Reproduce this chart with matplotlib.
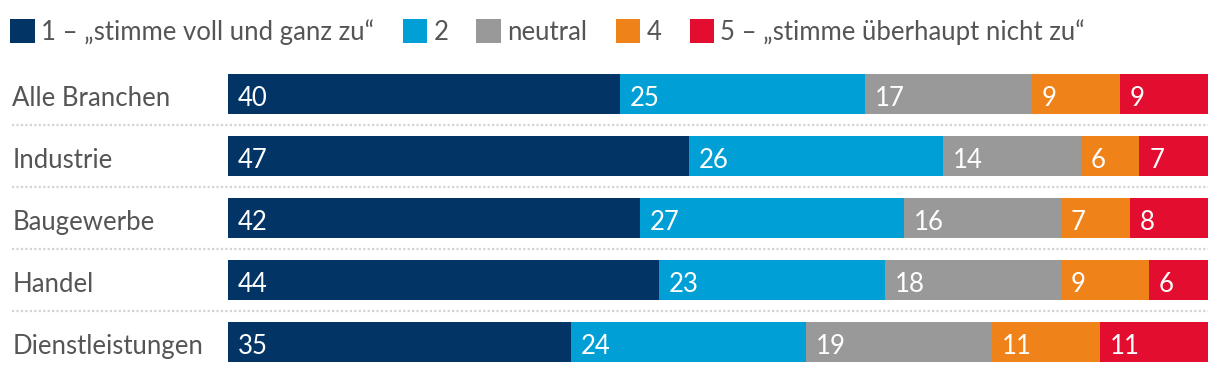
import matplotlib.pyplot as plt
from matplotlib.patches import Patch

plt.rcParams['font.family'] = ['Lato', 'DejaVu Sans']

# Daten
branchen = ['Alle Branchen', 'Industrie', 'Baugewerbe', 'Handel', 'Dienstleistungen']
stufen = ['1 – „stimme voll und ganz zu“', '2', 'neutral', '4', '5 – „stimme überhaupt nicht zu“']
werte_1 = [40, 47, 42, 44, 35]
werte_2 = [25, 26, 27, 23, 24]
werte_neutral = [17, 14, 16, 18, 19]
werte_4 = [9, 6, 7, 9, 11]
werte_5 = [9, 7, 8, 6, 11]
farben = ['#023466', '#00a0d6', '#999999', '#f0821a', '#e30d30']

reihen = [werte_1, werte_2, werte_neutral, werte_4, werte_5]
textfarbe = '#555555'
fs = 18.5

fig = plt.figure(figsize=(12.2, 3.74), dpi=100)
ax = fig.add_axes([228 / 1220, 1 - 373 / 374, 980 / 1220, 310 / 374])

y = list(range(len(branchen)))
links = [0] * len(branchen)
for werte, farbe in zip(reihen, farben):
    ax.barh(y, werte, left=links, height=0.645, color=farbe)
    for i, w in enumerate(werte):
        ax.text(links[i] + 1.0, i + 0.03, str(w), color='white', fontsize=fs,
                va='center_baseline', ha='left')
    links = [l + w for l, w in zip(links, werte)]

ax.set_xlim(0, 100)
ax.set_ylim(len(branchen) - 0.5, -0.5)
ax.axis('off')

# Kategorien links
for i, name in enumerate(branchen):
    ax.text(-22.0, i + 0.03, name, color=textfarbe, fontsize=fs,
            va='center_baseline', ha='left')

# gepunktete Trennlinien
for i in range(len(branchen) - 1):
    ax.plot([-22.0, 100], [i + 0.5, i + 0.5], color='#d4d4d4', lw=1.6,
            linestyle=(0, (1, 1)), clip_on=False)

# Legende
handles = [Patch(facecolor=f, edgecolor='none') for f in farben]
fig.legend(handles, stufen, loc='upper left', bbox_to_anchor=(-0.002, 0.984),
           ncol=5, frameon=False, fontsize=fs, labelcolor=textfarbe,
           handlelength=0.95, handleheight=1.1, handletextpad=0.25,
           columnspacing=1.1, borderpad=0.25, borderaxespad=0.25)

fig.savefig('out.png', dpi=100)
